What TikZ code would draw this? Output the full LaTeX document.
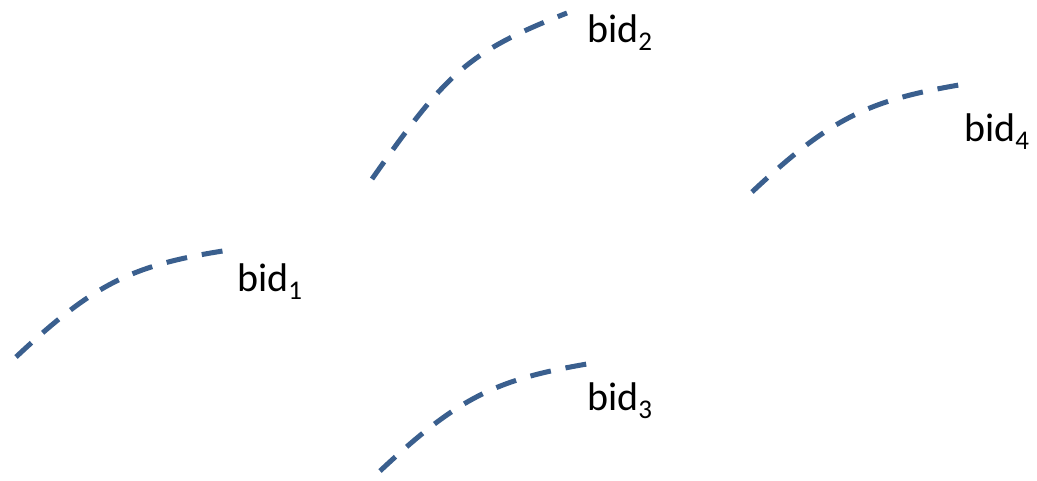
\documentclass[tikz,border=0pt]{standalone}
\usepackage{fontspec}
\setmainfont{Carlito}
\definecolor{curveblue}{HTML}{3A5F8E}
\begin{document}
\begin{tikzpicture}[x=1pt,y=-1pt,
  bidcurve/.style={draw=curveblue, line width=5pt, dash pattern=on 21pt off 15pt},
  bidlabel/.style={anchor=base west, inner sep=0pt, font=\fontsize{40}{40}\selectfont}]
\useasboundingbox (0,0) rectangle (1037,481);
\newcommand{\bidsub}[1]{bid\raisebox{-8pt}{\fontsize{27}{27}\selectfont #1}}
% curve 1
\coordinate (c1s) at (16,357);
\coordinate (c1e) at (229,250);
\draw[bidcurve] (c1s) .. controls (95,283) and (132,265) .. (c1e);
\node[bidlabel] (l1) at (237,292) {\bidsub{1}};
% curve 2
\coordinate (c2s) at (372,179);
\coordinate (c2e) at (567,13);
\draw[bidcurve] (c2s) .. controls (447,72) and (468,52) .. (c2e);
\node[bidlabel] (l2) at (587,43) {\bidsub{2}};
% curve 3
\coordinate (c3s) at (380,471);
\coordinate (c3e) at (593,363);
\draw[bidcurve] (c3s) .. controls (459,397) and (496,379) .. (c3e);
\node[bidlabel] (l3) at (587,410) {\bidsub{3}};
% curve 4
\coordinate (c4s) at (752,192);
\coordinate (c4e) at (965,84);
\draw[bidcurve] (c4s) .. controls (831,118) and (868,100) .. (c4e);
\node[bidlabel] (l4) at (964,142) {\bidsub{4}};
\end{tikzpicture}
\end{document}
